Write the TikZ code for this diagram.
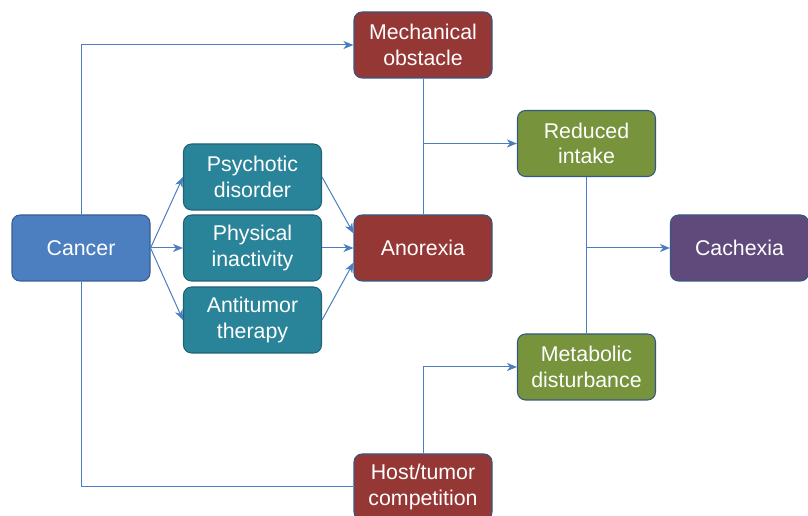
\documentclass[tikz,border=0pt]{standalone}
\usepackage{fontspec}
\setmainfont{Liberation Sans}
\usetikzlibrary{arrows.meta,calc}
\definecolor{lnblue}{HTML}{4A7EBF}
\definecolor{cblue}{HTML}{4C7FBF}
\definecolor{cteal}{HTML}{2A8499}
\definecolor{cred}{HTML}{953735}
\definecolor{cgreen}{HTML}{77933C}
\definecolor{cpurple}{HTML}{604A7B}
\tikzset{
  box/.style={rounded corners=6pt, minimum width=103.5pt, minimum height=49.5pt,
    inner sep=0pt, text=white, align=center, line width=0.8pt,
    font=\fontsize{16pt}{19pt}\selectfont},
  bluebox/.style={box, fill=cblue, draw=cblue!75!black},
  tealbox/.style={box, fill=cteal, draw=cteal!75!black},
  redbox/.style={box, fill=cred, draw=lnblue!70!black},
  greenbox/.style={box, fill=cgreen, draw=lnblue!70!black},
  purplebox/.style={box, fill=cpurple, draw=lnblue!70!black},
  conn/.style={draw=lnblue, line width=0.75pt},
  arr/.style={conn, -{Stealth[length=7.5pt,width=6pt,inset=2.2pt]}}
}
\begin{document}
\begin{tikzpicture}[x=0.75pt,y=-0.75pt]
\useasboundingbox (0,0) rectangle (808,516);
\node[bluebox] (cancer) at (81,248) {Cancer};
\node[tealbox] (psy) at (252.5,177) {Psychotic\\disorder};
\node[tealbox] (phys) at (252.5,248) {Physical\\inactivity};
\node[tealbox] (anti) at (252.5,320) {Antitumor\\therapy};
\node[redbox] (anx) at (423,248) {Anorexia};
\node[redbox] (mech) at (423,45) {Mechanical\\obstacle};
\node[redbox] (host) at (423,487) {Host/tumor\\competition};
\node[greenbox] (red) at (586.5,143.5) {Reduced\\intake};
\node[greenbox] (met) at (586.5,367) {Metabolic\\disturbance};
\node[purplebox] (cach) at (739.5,248) {Cachexia};

\draw[arr] (cancer.north) |- (mech.west);
\draw[conn] (cancer.south) |- (host.west);
\draw[arr] (cancer.east) -- (psy.west);
\draw[arr] (cancer.east) -- (phys.west);
\draw[arr] (cancer.east) -- (anti.west);
\draw[arr] (psy.east) -- ([yshift=11pt]anx.west);
\draw[arr] (phys.east) -- (anx.west);
\draw[arr] (anti.east) -- ([yshift=-11pt]anx.west);
\draw[conn] (mech.south) -- (anx.north);
\coordinate (j1) at (mech.south |- red.west);
\draw[arr] (j1) -- (red.west);
\draw[conn] (red.south) -- (met.north);
\coordinate (j2) at (red.south |- cach.west);
\draw[arr] (j2) -- (cach.west);
\draw[arr] (host.north) |- (met.west);
\end{tikzpicture}
\end{document}
